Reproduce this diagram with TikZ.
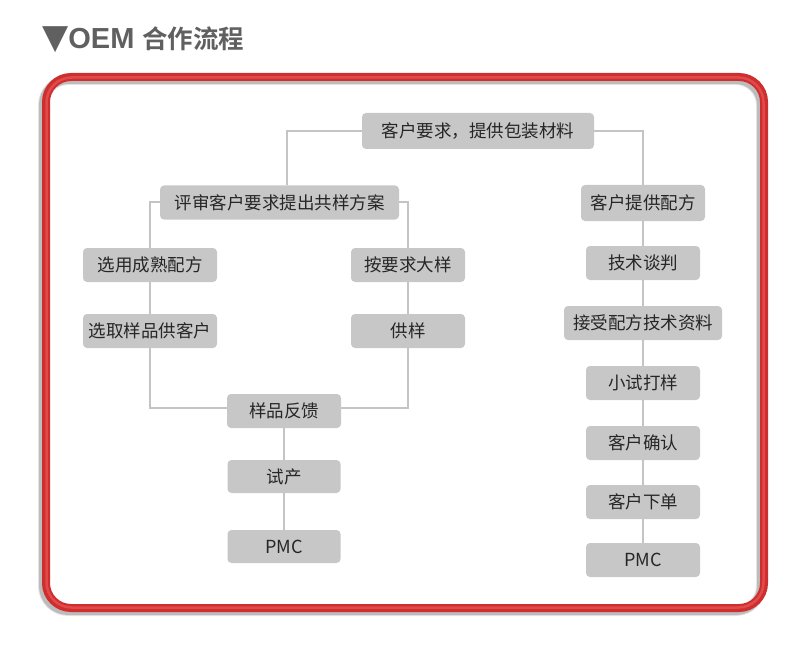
\documentclass[tikz,border=0pt]{standalone}
\usepackage{fontspec}
\newfontfamily\cjk{Noto Sans CJK SC}
\newfontfamily\cjkb{Noto Sans CJK SC Bold}
\newfontfamily\latb{Liberation Sans Bold}
\newfontfamily\sym{DejaVu Sans}
\usetikzlibrary{backgrounds}
\definecolor{boxgray}{HTML}{C8C7C8}
\definecolor{linegray}{HTML}{C4C4C4}
\definecolor{textdark}{HTML}{262626}
\definecolor{titlegray}{HTML}{606060}
\definecolor{framered}{HTML}{CF2E2E}
\definecolor{framelight}{HTML}{E04A4A}
\tikzset{
  stepbox/.style={fill=boxgray, rounded corners=4pt, inner sep=0pt, minimum height=34pt,
    text=textdark, font=\cjk\fontsize{17.5}{20}\selectfont},
  conn/.style={draw=linegray, line width=2pt},
  framepath/.style={rounded corners=25pt},
}
\begin{document}
\begin{tikzpicture}[x=1pt,y=-1pt]
\useasboundingbox (0,0) rectangle (800,671);
% title
\node[anchor=base west, inner sep=0pt, text=titlegray] (title) at (42,49)
  {{\sym\fontsize{34}{36}\selectfont ▼}{\latb\fontsize{29}{32}\selectfont OEM}\hspace{8pt}{\cjkb\fontsize{25.5}{30}\selectfont 合作流程}};
% frame shadow
\foreach \o/\w in {0.10/10,0.18/8} {
  \draw[black, opacity=\o, line width=\w pt, framepath] (43,80) rectangle (761,611);
}
\draw[framered, line width=8pt, framepath] (46,77) rectangle (764,608);
\draw[framelight, line width=2.5pt, framepath] (46.5,77.5) rectangle (763.5,607.5);
% nodes
\node[stepbox, minimum width=232pt, minimum height=36pt] (top) at (478,131) {客户要求，提供包装材料};
\node[stepbox, minimum width=239pt] (rev) at (279.5,202.5) {评审客户要求提出共样方案};
\node[stepbox, minimum width=134pt] (l1) at (150,265) {选用成熟配方};
\node[stepbox, minimum width=134pt] (l2) at (150,331) {选取样品供客户};
\node[stepbox, minimum width=114pt] (m1) at (408,265) {按要求大样};
\node[stepbox, minimum width=114pt] (m2) at (408,331) {供样};
\node[stepbox, minimum width=114pt] (fb) at (284,411) {样品反馈};
\node[stepbox, minimum width=113pt, minimum height=33pt] (trial) at (284,476.5) {试产};
\node[stepbox, minimum width=113pt, minimum height=33pt, font=\cjk\fontsize{18}{20}\selectfont] (pmcl) at (284,546.5) {PMC};
\node[stepbox, minimum width=124pt, minimum height=36pt] (r1) at (643,203) {客户提供配方};
\node[stepbox, minimum width=114pt] (r2) at (643,263) {技术谈判};
\node[stepbox, minimum width=158pt] (r3) at (643,323) {接受配方技术资料};
\node[stepbox, minimum width=114pt] (r4) at (643,383) {小试打样};
\node[stepbox, minimum width=114pt] (r5) at (643,443) {客户确认};
\node[stepbox, minimum width=114pt] (r6) at (643,502) {客户下单};
\node[stepbox, minimum width=114pt, font=\cjk\fontsize{18}{20}\selectfont] (pmcr) at (643,560) {PMC};
\coordinate (j1) at (287,131);
\coordinate (jl) at (150,408);
\coordinate (jr) at (408,408);
% connectors
\begin{scope}[on background layer]
\draw[conn] (top.west) -- (j1) -- (j1 |- rev.north);
\draw[conn] (top.east) -| (r1.north);
\draw[conn] (rev.west) -| (l1.north);
\draw[conn] (rev.east) -| (m1.north);
\draw[conn] (l1.south) -- (l2.north);
\draw[conn] (m1.south) -- (m2.north);
\draw[conn] (l2.south) -- (jl) -- (jl -| fb.west);
\draw[conn] (m2.south) -- (jr) -- (jr -| fb.east);
\draw[conn] (fb.south) -- (trial.north);
\draw[conn] (trial.south) -- (pmcl.north);
\draw[conn] (r1.south) -- (r2.north);
\draw[conn] (r2.south) -- (r3.north);
\draw[conn] (r3.south) -- (r4.north);
\draw[conn] (r4.south) -- (r5.north);
\draw[conn] (r5.south) -- (r6.north);
\draw[conn] (r6.south) -- (pmcr.north);
\end{scope}
\end{tikzpicture}
\end{document}
